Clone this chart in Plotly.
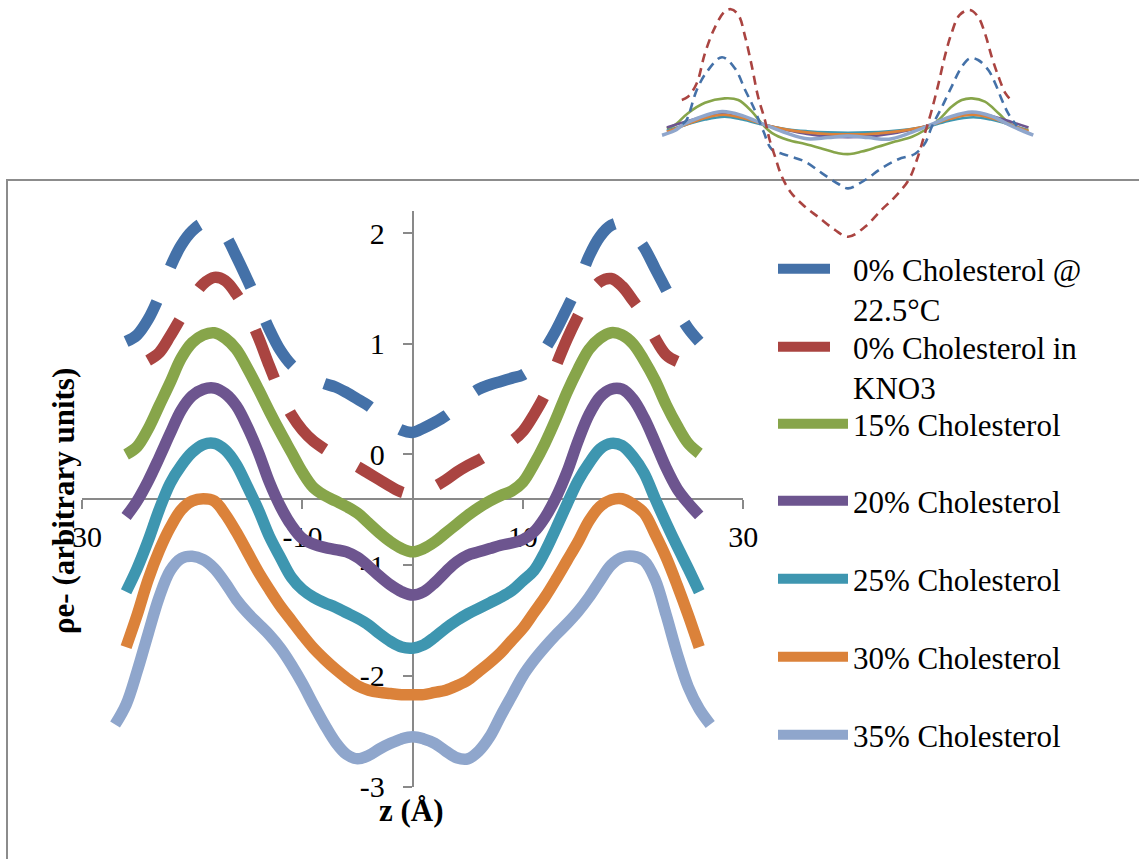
import plotly.graph_objects as go

# ---------------- main chart data (z in Å, electron density in arbitrary units) ----------------
z_blue = list(range(-26, 27))
rho_blue = [1.02, 1.08, 1.22, 1.43, 1.69, 1.89, 2.02, 2.09, 2.08, 1.98, 1.79, 1.58, 1.36, 1.13,
            0.94, 0.81, 0.73, 0.68, 0.64, 0.61, 0.56, 0.50, 0.44, 0.36, 0.28, 0.22, 0.20,
            0.24, 0.29, 0.35, 0.43, 0.52, 0.59, 0.63, 0.66, 0.69, 0.72, 0.80, 0.95, 1.12,
            1.32, 1.53, 1.79, 1.97, 2.07, 2.09, 2.00, 1.87, 1.68, 1.49, 1.30, 1.14, 1.02]

z_red = list(range(-24, 25))
rho_red = [0.85, 0.92, 1.07, 1.24, 1.41, 1.54, 1.60, 1.57, 1.45, 1.28, 1.06, 0.80, 0.56,
           0.36, 0.22, 0.12, 0.05, -0.01, -0.06, -0.11, -0.17, -0.23, -0.29, -0.34, -0.36,
           -0.34, -0.29, -0.23, -0.16, -0.10, -0.05, 0.01, 0.06, 0.12, 0.21, 0.36, 0.54,
           0.80, 1.04, 1.25, 1.44, 1.56, 1.59, 1.52, 1.39, 1.25, 1.05, 0.90, 0.84]

z_15 = list(range(-26, 27))
rho_15 = [0.00, 0.07, 0.23, 0.44, 0.65, 0.87, 1.01, 1.08, 1.10, 1.05, 0.95, 0.78, 0.59, 0.39,
          0.20, 0.02, -0.16, -0.30, -0.37, -0.42, -0.47, -0.53, -0.62, -0.71, -0.79, -0.85, -0.88,
          -0.85, -0.79, -0.71, -0.63, -0.55, -0.48, -0.42, -0.37, -0.33, -0.25, -0.09, 0.10,
          0.32, 0.56, 0.77, 0.95, 1.05, 1.10, 1.08, 1.00, 0.85, 0.67, 0.45, 0.26, 0.10, 0.01]

z_20 = list(range(-26, 27))
rho_20 = [-0.56, -0.42, -0.24, -0.03, 0.19, 0.40, 0.53, 0.59, 0.60, 0.55, 0.44, 0.25, 0.02,
          -0.25, -0.47, -0.64, -0.76, -0.81, -0.84, -0.86, -0.88, -0.93, -1.01, -1.10, -1.18,
          -1.24, -1.27,
          -1.24, -1.16, -1.06, -0.97, -0.91, -0.88, -0.85, -0.82, -0.80, -0.77, -0.70, -0.57,
          -0.39, -0.16, 0.12, 0.36, 0.52, 0.59, 0.59, 0.50, 0.33, 0.11, -0.12, -0.31, -0.44, -0.55]

z_25 = list(range(-26, 27))
rho_25 = [-1.24, -1.03, -0.78, -0.50, -0.26, -0.10, 0.02, 0.09, 0.10, 0.04, -0.09, -0.29,
          -0.50, -0.74, -0.93, -1.11, -1.22, -1.29, -1.34, -1.38, -1.43, -1.48, -1.54, -1.62,
          -1.69, -1.74, -1.75,
          -1.72, -1.65, -1.57, -1.50, -1.44, -1.39, -1.34, -1.29, -1.23, -1.14, -1.05, -0.88,
          -0.67, -0.45, -0.24, -0.08, 0.05, 0.10, 0.08, -0.02, -0.17, -0.40, -0.62, -0.83,
          -1.03, -1.24]

z_30 = list(range(-26, 27))
rho_30 = [-1.74, -1.45, -1.13, -0.87, -0.66, -0.50, -0.42, -0.40, -0.42, -0.54, -0.70, -0.88,
          -1.06, -1.22, -1.37, -1.50, -1.63, -1.75, -1.85, -1.94, -2.02, -2.09, -2.13, -2.15,
          -2.16, -2.17, -2.17,
          -2.17, -2.15, -2.13, -2.09, -2.04, -1.96, -1.88, -1.79, -1.68, -1.57, -1.43, -1.29,
          -1.13, -0.96, -0.79, -0.60, -0.47, -0.41, -0.40, -0.45, -0.53, -0.72, -0.93, -1.18,
          -1.45, -1.74]

z_35 = list(range(-27, 28))
rho_35 = [-2.44, -2.26, -1.96, -1.62, -1.29, -1.05, -0.94, -0.92, -0.95, -1.03, -1.16, -1.31,
          -1.43, -1.53, -1.63, -1.75, -1.90, -2.07, -2.26, -2.44, -2.60, -2.71, -2.75, -2.72,
          -2.66, -2.61, -2.57, -2.55,
          -2.57, -2.61, -2.68, -2.74, -2.75, -2.68, -2.55, -2.36, -2.18, -2.00, -1.86, -1.74,
          -1.63, -1.53, -1.42, -1.29, -1.14, -1.00, -0.93, -0.92, -0.96, -1.13, -1.45, -1.80,
          -2.10, -2.30, -2.44]

series_names = ["0% Cholesterol @<br>22.5°C", "0% Cholesterol in<br>KNO3", "15% Cholesterol",
                "20% Cholesterol", "25% Cholesterol", "30% Cholesterol", "35% Cholesterol"]
series_colors = ["#4471A8", "#AA4441", "#87A54A", "#6D558F", "#3E96B0", "#DB823A", "#8FA6CC"]
series_dash = ["52px,37px", "52px,37px", "solid", "solid", "solid", "solid", "solid"]

# ---------------- inset data (unshifted profiles, arbitrary units) ----------------
zi_blue = [-24.3, -23.7, -22.2, -20.7, -18.5, -16.6, -15.1, -13.9, -12.4, -11.2, -8.8, -6.3,
           -3.9, -1.4, 0.0, 2.5, 4.9, 7.4, 9.8, 11.3, 12.3, 13.8, 15.2, 16.7, 17.9, 19.1,
           20.6, 21.6, 22.6, 23.5, 24.8]
ri_blue = [0.15, 0.25, 1.00, 1.46, 1.82, 1.54, 1.00, 0.58, -0.04, -0.48, -0.64, -0.79,
           -1.07, -1.35, -1.46, -1.25, -0.96, -0.73, -0.60, -0.33, 0.08, 0.58, 1.08, 1.58,
           1.79, 1.75, 1.50, 1.17, 0.75, 0.42, 0.10]

zi_red = [-24.4, -23.5, -22.2, -21.0, -19.5, -18.1, -17.2, -16.1, -15.1, -14.1, -13.2, -12.2,
          -11.5, -10.7, -9.7, -8.3, -6.3, -4.4, -1.9, 0.0, 2.5, 4.9, 6.9, 8.9, 10.1, 11.3,
          12.3, 13.3, 14.2, 15.2, 16.4, 17.9, 19.1, 20.1, 21.1, 22.1, 23.1, 23.8]
ri_red = [0.75, 0.83, 1.17, 1.92, 2.58, 2.96, 3.02, 2.88, 2.33, 1.58, 0.83, 0.25,
          -0.25, -0.67, -1.17, -1.58, -1.92, -2.17, -2.50, -2.67, -2.42, -2.00, -1.67, -1.25,
          -0.75, -0.08, 0.50, 1.17, 1.83, 2.42, 2.88, 3.00, 2.83, 2.42, 1.83, 1.33, 0.92, 0.77]

zi_15 = [-26.6, -25.4, -23.5, -21.0, -18.1, -16.1, -14.1, -12.7, -11.2, -8.8, -6.3, -3.9,
         -1.4, 0.3, 2.0, 4.4, 6.9, 9.4, 11.3, 13.3, 15.2, 16.7, 18.2, 20.1, 22.1, 24.0, 26.5]
ri_15 = [0.04, 0.13, 0.42, 0.68, 0.79, 0.75, 0.46, 0.17, -0.07, -0.25, -0.35, -0.46,
         -0.58, -0.60, -0.54, -0.42, -0.29, -0.17, 0.00, 0.25, 0.58, 0.75, 0.79, 0.71, 0.42,
         0.13, 0.00]

zi_20 = [-26.6, -24.0, -21.0, -18.5, -15.5, -12.2, -9.0, -6.0, -3.0, 0.0, 3.0, 6.0, 9.0,
         12.0, 15.0, 18.2, 21.0, 24.0, 26.5]
ri_20 = [0.06, 0.20, 0.34, 0.40, 0.30, 0.13, 0.00, -0.10, -0.16, -0.18, -0.16, -0.10, 0.00,
         0.12, 0.30, 0.42, 0.35, 0.20, 0.06]

zi_25 = [-26.6, -24.0, -21.0, -18.1, -15.5, -12.2, -9.0, -6.0, -3.0, 0.0, 3.0, 6.0, 9.0,
         12.0, 15.0, 18.4, 21.0, 24.0, 26.2]
ri_25 = [-0.02, 0.12, 0.26, 0.33, 0.26, 0.12, 0.02, -0.03, -0.06, -0.07, -0.06, -0.03, 0.02,
         0.10, 0.24, 0.32, 0.26, 0.12, 0.00]

zi_30 = [-26.6, -24.0, -21.0, -18.3, -15.5, -12.2, -9.0, -6.0, -3.0, 0.0, 3.0, 6.0, 9.0,
         12.0, 15.0, 18.2, 21.0, 24.0, 26.5]
ri_30 = [-0.04, 0.12, 0.30, 0.38, 0.30, 0.13, 0.01, -0.06, -0.10, -0.11, -0.10, -0.06, 0.01,
         0.12, 0.28, 0.38, 0.30, 0.12, -0.03]

zi_35 = [-27.3, -25.5, -24.2, -22.0, -18.5, -15.5, -12.2, -9.0, -6.0, -3.0, 0.0, 3.0, 6.0,
         9.0, 12.0, 15.0, 18.2, 21.0, 24.0, 27.2]
ri_35 = [-0.13, -0.02, 0.13, 0.30, 0.46, 0.36, 0.13, -0.08, -0.22, -0.19, -0.15, -0.19,
         -0.23, -0.08, 0.12, 0.33, 0.45, 0.35, 0.10, -0.13]

# ---------------- axis ticks ----------------
x_tickvals = [-30, -10, 10, 30]
x_ticktext = ["-30", "-10", "10", "30"]
y_tickvals = [-3, -2, -1, 0, 1, 2]
y_ticktext = ["-3", "-2", "-1", "0", "1", "2"]

W, H = 1139, 859
FONT = "Liberation Serif"
AXIS_GREY = "#898989"

main_z = [z_blue, z_red, z_15, z_20, z_25, z_30, z_35]
main_rho = [rho_blue, rho_red, rho_15, rho_20, rho_25, rho_30, rho_35]
inset_z = [zi_blue, zi_red, zi_15, zi_20, zi_25, zi_30, zi_35]
inset_rho = [ri_blue, ri_red, ri_15, ri_20, ri_25, ri_30, ri_35]

fig = go.Figure()

# legend symbol centres (px from top) and number of text lines
legend_rows = [(268, 2), (346, 2), (424, 1), (501, 1), (579, 1), (657, 1), (735, 1)]

for i in range(7):
    lg = "legend" if i == 0 else f"legend{i + 1}"
    fig.add_trace(go.Scatter(
        x=main_z[i], y=main_rho[i], mode="lines", name=series_names[i],
        line=dict(color=series_colors[i], width=11.5, dash=series_dash[i], shape="spline"),
        xaxis="x", yaxis="y", legend=lg, showlegend=True, hoverinfo="skip"))

inset_dash = ["9px,6px", "9px,6px", "solid", "solid", "solid", "solid", "solid"]
inset_width = [2.6, 2.6, 2.6, 2.6, 2.6, 2.6, 3.5]
for i in [2, 3, 4, 5, 6, 0, 1]:
    fig.add_trace(go.Scatter(
        x=inset_z[i], y=inset_rho[i], mode="lines", showlegend=False,
        line=dict(color=series_colors[i], width=inset_width[i], dash=inset_dash[i], shape="spline"),
        xaxis="x2", yaxis="y2", hoverinfo="skip"))

layout = dict(
    width=W, height=H, autosize=False,
    margin=dict(l=0, r=0, t=0, b=0, pad=0),
    paper_bgcolor="white", plot_bgcolor="rgba(0,0,0,0)",
    font=dict(family=FONT, size=30, color="black"),
    xaxis=dict(domain=[82 / W, 743.3 / W], range=[-30, 30], anchor="free",
               position=1 - 499.3 / H, showgrid=False, zeroline=False,
               showline=True, linecolor=AXIS_GREY, linewidth=1.5,
               ticks="outside", ticklen=9, tickwidth=1.5, tickcolor=AXIS_GREY,
               tickvals=x_tickvals, ticktext=x_ticktext, ticklabelstandoff=2,
               tickfont=dict(family=FONT, size=30, color="black"),
               layer="below traces", automargin=False, fixedrange=True),
    yaxis=dict(domain=[1 - 786.5 / H, 1 - 211 / H], range=[-3, 2.2], anchor="free",
               position=412.6 / W, showgrid=False, zeroline=False,
               showline=True, linecolor=AXIS_GREY, linewidth=1.5,
               ticks="outside", ticklen=9, tickwidth=1.5, tickcolor=AXIS_GREY,
               tickvals=y_tickvals, ticktext=y_ticktext, ticklabelstandoff=12,
               tickfont=dict(family=FONT, size=30, color="black"),
               layer="below traces", automargin=False, fixedrange=True),
    xaxis2=dict(domain=[660 / W, 1036 / W], range=[-27.6, 27.6], anchor="y2",
                visible=False, fixedrange=True),
    yaxis2=dict(domain=[1 - 250 / H, 1.0], range=[-3.0, 3.25], anchor="x2",
                visible=False, fixedrange=True),
    shapes=[dict(type="rect", xref="paper", yref="paper",
                 x0=7 / W, x1=1.2, y0=-0.2, y1=1 - 180 / H,
                 line=dict(color="#8C8C8C", width=2), fillcolor="rgba(0,0,0,0)",
                 layer="below")],
    annotations=[
        dict(text="<b>ρe- (arbitrary units)</b>", x=63 / W, y=1 - 501 / H,
             xref="paper", yref="paper", showarrow=False, textangle=-90,
             xanchor="center", yanchor="middle",
             font=dict(family=FONT, size=31, color="black")),
        dict(text="<b>z (Å)</b>", x=411.5 / W, y=1 - 810 / H,
             xref="paper", yref="paper", showarrow=False,
             xanchor="center", yanchor="middle",
             font=dict(family=FONT, size=31, color="black")),
    ],
)

for i, (sy, nl) in enumerate(legend_rows):
    key = "legend" if i == 0 else f"legend{i + 1}"
    cy = sy + (21 if nl == 2 else 0)
    layout[key] = dict(
        x=773 / W, y=1 - cy / H, xanchor="left", yanchor="middle",
        bgcolor="rgba(0,0,0,0)", borderwidth=0, itemwidth=70, valign="top",
        font=dict(family=FONT, size=31, color="black"),
        itemclick=False, itemdoubleclick=False, tracegroupgap=0)

fig.update_layout(**layout)
fig.write_html("out.html")
